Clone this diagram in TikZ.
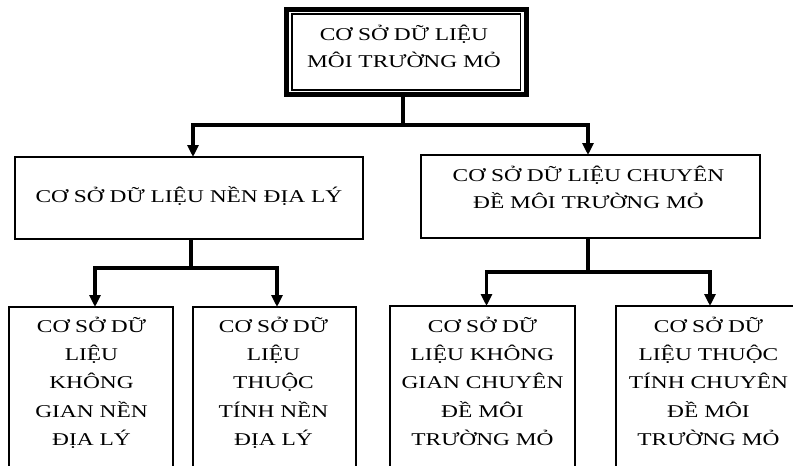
\documentclass[tikz,border=0pt]{standalone}
\usepackage{fontspec}
\usetikzlibrary{arrows.meta,calc}
\newfontfamily\vnfont[FakeStretch=1.3]{Liberation Serif}
\begin{document}
\begin{tikzpicture}[x=1pt,y=-1pt,
  box/.style={draw,line width=1.5pt,inner sep=0pt,outer sep=0pt},
  lbl/.style={font=\vnfont\fontsize{18}{27}\selectfont,align=center,inner sep=0pt,anchor=north},
  lblb/.style={font=\vnfont\fontsize{18}{28.3}\selectfont,align=center,inner sep=0pt,anchor=north},
  link/.style={line width=3.3pt},
  stemline/.style={line width=4.5pt},
  arr/.style={-{Triangle[width=11pt,length=12pt]}}]
\useasboundingbox (0,0) rectangle (793,466);
\fill[white] (0,0) rectangle (793,466);
\clip (0,0) rectangle (793,466);

% root box with heavy double frame
\node[draw,line width=5pt,inner sep=0pt,outer sep=0pt,minimum width=240pt,minimum height=85pt] (top) at (406.5,52) {};
\draw[line width=1.3pt] ([xshift=5.5pt,yshift=-4.5pt]top.north west) rectangle ([xshift=-6pt,yshift=4.5pt]top.south east);
\node[lbl] (ttop) at (404,22) {\rule{0pt}{18pt}CƠ SỞ DỮ LIỆU\\MÔI TRƯỜNG MỎ};

% second level
\node[box,minimum width=348pt,minimum height=82pt] (geo) at (189,198) {};
\node[lbl] (tgeo) at (189,184) {\rule{0pt}{18pt}CƠ SỞ DỮ LIỆU NỀN ĐỊA LÝ};
\node[box,minimum width=339pt,minimum height=83pt] (theme) at (590.5,196.5) {};
\node[lbl] (ttheme) at (588.5,163) {\rule{0pt}{18pt}CƠ SỞ DỮ LIỆU CHUYÊN\\ĐỀ MÔI TRƯỜNG MỎ};

% third level (boxes run past the lower edge)
\node[box,minimum width=164pt,minimum height=173pt] (b1) at (91,393.5) {};
\node[box,minimum width=163pt,minimum height=173pt] (b2) at (274.5,393.5) {};
\node[box,minimum width=185pt,minimum height=173pt] (b3) at (482.5,392.5) {};
\node[box,minimum width=184pt,minimum height=173pt] (b4) at (708,392.5) {};
\node[lblb] (tb1) at (91.5,314) {\rule{0pt}{18pt}CƠ SỞ DỮ\\LIỆU\\KHÔNG\\GIAN NỀN\\ĐỊA LÝ};
\node[lblb] (tb2) at (273.5,314) {\rule{0pt}{18pt}CƠ SỞ DỮ\\LIỆU\\THUỘC\\TÍNH NỀN\\ĐỊA LÝ};
\node[lblb] (tb3) at (482.5,314) {\rule{0pt}{18pt}CƠ SỞ DỮ\\LIỆU KHÔNG\\GIAN CHUYÊN\\ĐỀ MÔI\\TRƯỜNG MỎ};
\node[lblb] (tb4) at (708.5,314) {\rule{0pt}{18pt}CƠ SỞ DỮ\\LIỆU THUỘC\\TÍNH CHUYÊN\\ĐỀ MÔI\\TRƯỜNG MỎ};

% connectors
\coordinate (j0) at (403,125);
\coordinate (j1) at (191,268);
\coordinate (j2) at (588,272);
\draw[stemline] (top.south -| j0) -- (j0);
\draw[link,arr] (j0) -| ([xshift=4pt]geo.north);
\draw[link,arr] (j0) -| ([xshift=-2.5pt]theme.north);
\draw[stemline] (geo.south -| j1) -- (j1);
\draw[link,arr] (j1) -| ([xshift=4pt]b1.north);
\draw[link,arr] (j1) -| ([xshift=2.5pt]b2.north);
\draw[stemline] (theme.south -| j2) -- (j2);
\draw[link,arr] (j2) -| ([xshift=4pt]b3.north);
\draw[link,arr] (j2) -| ([xshift=2pt]b4.north);
\end{tikzpicture}
\end{document}
